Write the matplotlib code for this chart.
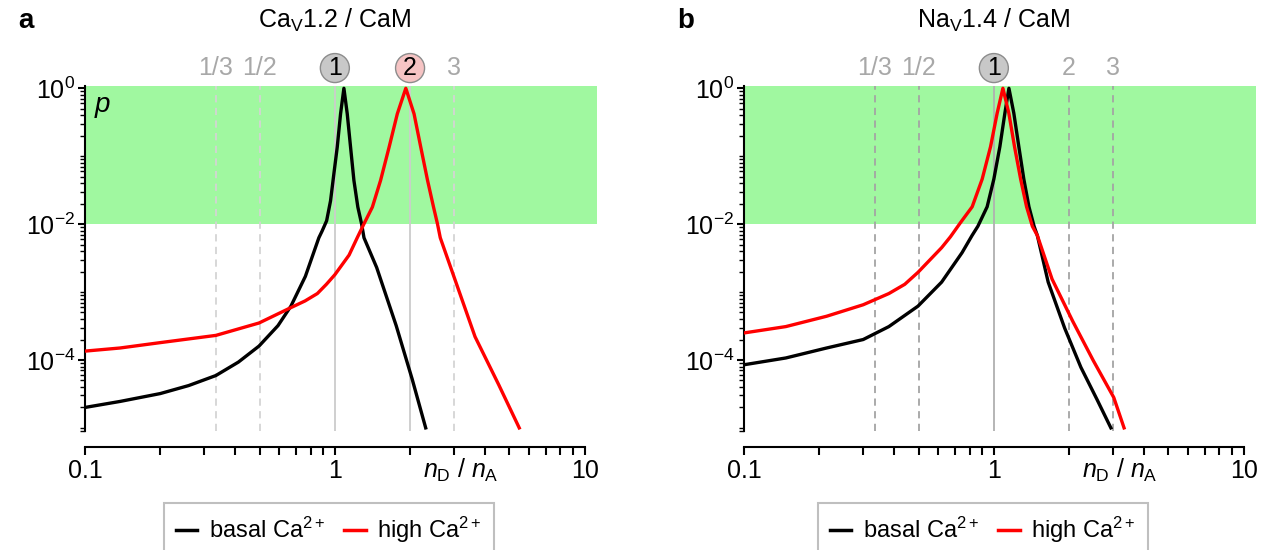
import numpy as np
import matplotlib
matplotlib.use("Agg")
import matplotlib.pyplot as plt
from matplotlib.lines import Line2D
from matplotlib.ticker import LogLocator, NullFormatter
from matplotlib.transforms import blended_transform_factory

plt.rcParams["font.family"] = ["Liberation Sans", "DejaVu Sans"]
plt.rcParams["mathtext.fontset"] = "custom"
plt.rcParams["mathtext.rm"] = "Liberation Sans"
plt.rcParams["mathtext.it"] = "Liberation Sans:italic"
plt.rcParams["mathtext.bf"] = "Liberation Sans:bold"

# panel a: CaV1.2 / CaM  (x = nD/nA, y = p)
caBasalX = [0.1, 0.138, 0.2, 0.26, 0.334, 0.411, 0.497, 0.592, 0.667, 0.762, 0.863, 0.889, 0.927,
            0.961, 0.991, 1.022, 1.054, 1.087, 1.121, 1.156, 1.192, 1.236, 1.28, 1.308,
            1.47, 1.76, 2.04, 2.31]
caBasalP = [2.0e-5, 2.45e-5, 3.2e-5, 4.2e-5, 5.9e-5, 9.3e-5, 1.6e-4, 3.2e-4, 6.2e-4, 1.7e-3, 6.3e-3, 7.9e-3, 1.12e-2,
            0.022, 0.055, 0.135, 0.42, 1.0, 0.42, 0.135, 0.044, 0.0178, 0.01, 6.3e-3,
            2.3e-3, 3.2e-4, 5.2e-5, 1.0e-5]
caHighX = [0.1, 0.138, 0.2, 0.334, 0.497, 0.667, 0.76, 0.851, 0.925, 1.0, 1.14, 1.229, 1.306, 1.413,
           1.524, 1.648, 1.778, 1.923, 2.075, 2.208, 2.35, 2.483, 2.576, 2.642,
           3.03, 3.64, 4.53, 5.47]
caHighP = [1.35e-4, 1.5e-4, 1.8e-4, 2.3e-4, 3.5e-4, 5.9e-4, 7.4e-4, 9.5e-4, 1.3e-3, 1.8e-3, 3.5e-3, 6.3e-3, 0.01, 0.0178,
           0.044, 0.135, 0.42, 1.0, 0.42, 0.135, 0.044, 0.0178, 0.01, 6.3e-3,
           1.5e-3, 2.2e-4, 4.3e-5, 1.0e-5]

# panel b: NaV1.4 / CaM
naBasalX = [0.1, 0.147, 0.214, 0.3, 0.38, 0.497, 0.618, 0.746, 0.818, 0.863, 0.94,
            1.0, 1.057, 1.107, 1.149, 1.202, 1.259, 1.318, 1.382, 1.449, 1.493,
            1.65, 1.92, 2.23, 2.59, 2.94]
naBasalP = [8.5e-5, 1.07e-4, 1.5e-4, 2.0e-4, 3.1e-4, 6.2e-4, 1.4e-3, 3.8e-3, 6.8e-3, 9.3e-3, 0.018,
            0.046, 0.138, 0.43, 1.0, 0.43, 0.138, 0.046, 0.018, 9.3e-3, 6.8e-3,
            1.4e-3, 2.95e-4, 7.8e-5, 2.6e-5, 1.0e-5]
naHighX = [0.1, 0.147, 0.214, 0.3, 0.38, 0.44, 0.497, 0.618, 0.67, 0.735, 0.819, 0.898,
           0.97, 1.031, 1.087, 1.148, 1.21, 1.28, 1.352, 1.426, 1.493,
           1.71, 2.07, 2.5, 3.02, 3.32]
naHighP = [2.5e-4, 3.1e-4, 4.4e-4, 6.5e-4, 9.5e-4, 1.3e-3, 1.95e-3, 4.5e-3, 6.5e-3, 0.0105, 0.018, 0.046,
           0.138, 0.43, 1.0, 0.43, 0.138, 0.046, 0.018, 9.3e-3, 6.8e-3,
           1.55e-3, 3.7e-4, 9.8e-5, 2.8e-5, 1.0e-5]

# stoichiometry markers along the top: (x, label, style)
caMarks = [(1/3, "1/3", "text"), (1/2, "1/2", "text"), (1, "1", "grey"), (2, "2", "pink"), (3, "3", "text")]
naMarks = [(1/3, "1/3", "text"), (1/2, "1/2", "text"), (1, "1", "grey"), (2, "2", "text"), (3, "3", "text")]

legendLabels = ["basal Ca$^{2+}$", "high Ca$^{2+}$"]

W, H = 1265, 550
FS = 18
fig = plt.figure(figsize=(W / 100, H / 100), dpi=100)


def plotPanel(left, title, letter, basal, high, marks, dashColor, solidColor, showP, legendCenter):
    ax = fig.add_axes([left / W, 1 - 431 / H, 512 / W, 345 / H])
    ax.set_xscale("log")
    ax.set_yscale("log")
    ax.set_xlim(0.1, 11.2)
    ax.set_ylim(9e-6, 1.08)

    # green band for p > 0.01
    ax.axhspan(0.01, 1.08, color="#a0f8a0", lw=0, zorder=0)

    trans = blended_transform_factory(ax.transData, ax.transAxes)
    for x, lab, style in marks:
        if style == "text":
            ax.axvline(x, color=dashColor, lw=1.3, ls=(0, (4, 3)), zorder=1)
            ax.text(x, 1.052, lab, transform=trans, ha="center", va="center",
                    fontsize=FS, color="#a8a8a8")
        else:
            ax.axvline(x, color=solidColor, lw=1.3, zorder=1)
            fc = "#c8c8c8" if style == "grey" else "#f6c4c4"
            ax.text(x, 1.052, lab, transform=trans, ha="center", va="center", fontsize=FS,
                    bbox=dict(boxstyle="circle,pad=0.1", fc=fc, ec="#8c8c8c", lw=1))

    ax.plot(basal[0], basal[1], color="black", lw=2.4, zorder=3)
    ax.plot(high[0], high[1], color="#ff0000", lw=2.4, zorder=3)

    # axes style
    for side in ["top", "right"]:
        ax.spines[side].set_visible(False)
    ax.spines["left"].set_linewidth(1.5)
    ax.spines["bottom"].set_linewidth(1.5)
    ax.spines["bottom"].set_position(("outward", 11.5))
    ax.spines["bottom"].set_bounds(0.1, 10)
    ax.spines["left"].set_bounds(9e-6, 1.08)

    ax.set_xticks([0.1, 1, 10])
    ax.set_xticklabels(["0.1", "1", "10"])
    ax.xaxis.set_minor_locator(LogLocator(base=10, subs=np.arange(2, 10), numticks=20))
    ax.xaxis.set_minor_formatter(NullFormatter())
    ax.set_yticks([1e-4, 1e-2, 1])
    ax.set_yticklabels(["$10^{-4}$", "$10^{-2}$", "$10^{0}$"])
    ax.yaxis.set_minor_locator(LogLocator(base=10, subs=np.arange(1, 10), numticks=20))
    ax.yaxis.set_minor_formatter(NullFormatter())
    ax.tick_params(axis="x", which="major", length=5.5, width=1.5, labelsize=FS, pad=3)
    ax.tick_params(axis="x", which="minor", length=5.5, width=1.5)
    ax.tick_params(axis="y", which="major", length=5, width=1.5, labelsize=FS, pad=2)
    ax.tick_params(axis="y", which="minor", length=3.5, width=1)

    ax.text(3.2, -0.115, "$n_{\\mathrm{D}}$ / $n_{\\mathrm{A}}$", transform=trans,
            ha="center", va="center", fontsize=FS)
    ax.text(1.0, 1.0 + 66 / 345, title, transform=trans, ha="center", va="center", fontsize=FS)
    fig.text((left - 67) / W, 1 - 21 / H, letter, fontsize=20, fontweight="bold", va="center")
    if showP:
        ax.text(0.018, 0.945, "p", transform=ax.transAxes, fontsize=20, style="italic",
                ha="left", va="center")

    handles = [Line2D([], [], color="black", lw=2.5), Line2D([], [], color="#ff0000", lw=2.5)]
    ax.legend(handles, legendLabels, loc="upper center", ncol=2,
              bbox_to_anchor=(legendCenter / W, 1 - 503 / H), bbox_transform=fig.transFigure,
              fontsize=17, frameon=True, fancybox=False, edgecolor="#b0b0b0", borderaxespad=0,
              handlelength=0.9, handletextpad=0.5, columnspacing=0.8, borderpad=0.5)
    ax.get_legend().get_frame().set_linewidth(1.5)
    return ax


plotPanel(85, "Ca$_{\\mathrm{V}}$1.2 / CaM", "a", (caBasalX, caBasalP), (caHighX, caHighP),
          caMarks, "#d4d4d4", "#cccccc", True, 329)
plotPanel(744, "Na$_{\\mathrm{V}}$1.4 / CaM", "b", (naBasalX, naBasalP), (naHighX, naHighP),
          naMarks, "#a4a4a4", "#b0b0b0", False, 983)

fig.savefig("out.png", dpi=100)
